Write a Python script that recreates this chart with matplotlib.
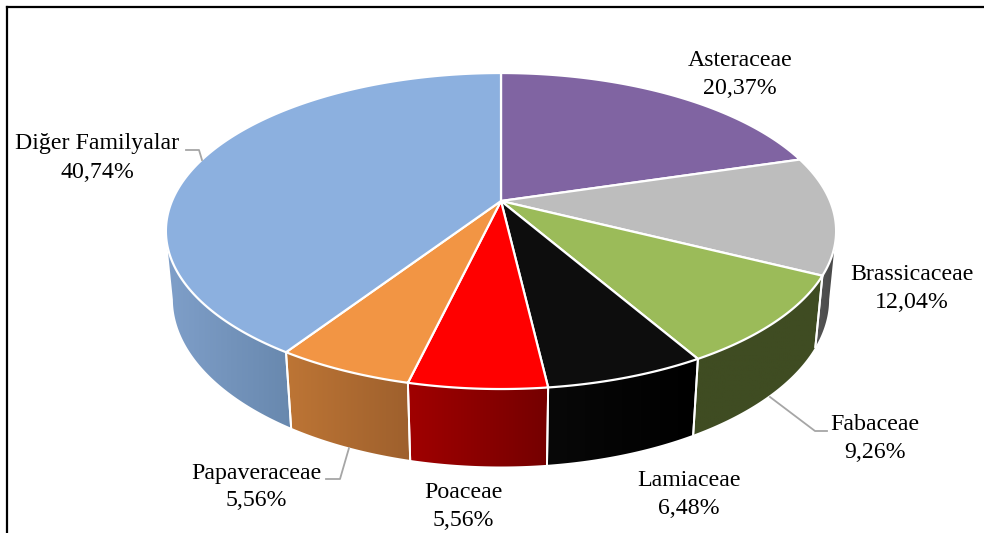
import matplotlib
matplotlib.use('Agg')
import matplotlib.pyplot as plt
from matplotlib.colors import LinearSegmentedColormap
from matplotlib.patches import Polygon
import numpy as np

families = ['Asteraceae', 'Brassicaceae', 'Fabaceae', 'Lamiaceae', 'Poaceae', 'Papaveraceae', 'Diğer Familyalar']
shares = [20.37, 12.04, 9.26, 6.48, 5.56, 5.56, 40.74]
top_colors = ['#8064a2', '#bdbdbd', '#9bbb59', '#0d0d0d', '#ff0000', '#f29544', '#8cb0df']
side_left = ['#4d3c61', '#555555', '#3f4c22', '#080808', '#a00000', '#bd7535', '#7f9fc9']
side_right = ['#4d3c61', '#484848', '#3f4c22', '#000000', '#750000', '#9e602d', '#6888ae']
label_x = [740, 912, 875, 689, 463, 256, 97]
label_y = [61, 274, 425, 480, 492, 473, 144]

# pie projection, fitted to the picture in pixels
CX, CY = 501, 201
F, G, K = 329, 152.3, 0.19
DROP, SHRINK = 68.2, 0.0205


def project(theta, low=False):
    """
    Maps a pie angle (0 = top, clockwise) to pixels, with perspective.
    """
    u, v = np.sin(theta), np.cos(theta)
    den = 1 + K * v + (SHRINK if low else 0)
    return CX + F * u / den, CY - (G * v - (DROP if low else 0)) / den


def plot_side(ax, start, stop, c0, c1):
    """
    Draws the outer wall of one slice with a left to right gradient.
    Only the part of the wall that faces the viewer is drawn.
    """
    limit = np.arccos(-K)
    t0, t1 = max(start, limit), min(stop, 2 * np.pi - limit)
    if t1 <= t0:
        return
    t = np.linspace(t0, t1, 100)
    xt, yt = project(t)
    xb, yb = project(t, low=True)
    pts = np.vstack([np.column_stack([xt, yt]), np.column_stack([xb, yb])[::-1]])
    cmap = LinearSegmentedColormap.from_list('side', [c0, c1])
    x0, x1 = pts[:, 0].min(), pts[:, 0].max()
    y0, y1 = pts[:, 1].min(), pts[:, 1].max()
    poly = Polygon(pts, closed=True, facecolor='none', edgecolor='none', zorder=2)
    ax.add_patch(poly)
    im = ax.imshow(np.linspace(0, 1, 64).reshape(1, -1), cmap=cmap, aspect='auto',
                   extent=(x0, x1, y1, y0), zorder=2, interpolation='bilinear')
    im.set_clip_path(poly)
    # white seams only where two slices really meet
    if t0 == start:
        ax.plot([xt[0], xb[0]], [yt[0], yb[0]], color='white', lw=1.4, zorder=3)
    if t1 == stop:
        ax.plot([xt[-1], xb[-1]], [yt[-1], yb[-1]], color='white', lw=1.4, zorder=3)


fig = plt.figure(figsize=(9.84, 5.33), dpi=100)
ax = fig.add_axes([0, 0, 1, 1])

edges = np.concatenate([[0], np.cumsum(shares)]) / np.sum(shares) * 2 * np.pi

for i in range(len(shares)):
    plot_side(ax, edges[i], edges[i + 1], side_left[i], side_right[i])

for i in range(len(shares)):
    t = np.linspace(edges[i], edges[i + 1], 150)
    x, y = project(t)
    pts = np.column_stack([np.r_[CX, x], np.r_[CY, y]])
    ax.add_patch(Polygon(pts, closed=True, facecolor=top_colors[i], edgecolor='white', lw=1.6, zorder=4, joinstyle='round'))

# leader lines
leaders = [([186, 199, 202], [150, 150, 160]),
           ([770, 815, 827], [397, 431, 431]),
           ([326, 340, 349], [479, 479, 448])]
for lx, ly in leaders:
    ax.plot(lx, ly, color='#a6a6a6', lw=1.3, zorder=5)

for name, share, x, y in zip(families, shares, label_x, label_y):
    pct = '{:.2f}%'.format(share).replace('.', ',')
    ax.text(x, y, name, ha='center', va='center', family='Liberation Serif', fontsize=17.2, color='black', zorder=6)
    ax.text(x, y + 28, pct, ha='center', va='center', family='Liberation Serif', fontsize=17.2, color='black', zorder=6)

# frame of the pasted picture, open at the right and bottom
ax.plot([7, 7], [533, 6.5], color='black', lw=1.6, zorder=7, solid_joinstyle='miter')
ax.plot([7, 984], [6.5, 6.5], color='black', lw=1.6, zorder=7)

ax.set_xlim(0, 984)
ax.set_ylim(533, 0)
ax.axis('off')
fig.savefig('out.png', dpi=100, facecolor='white')
